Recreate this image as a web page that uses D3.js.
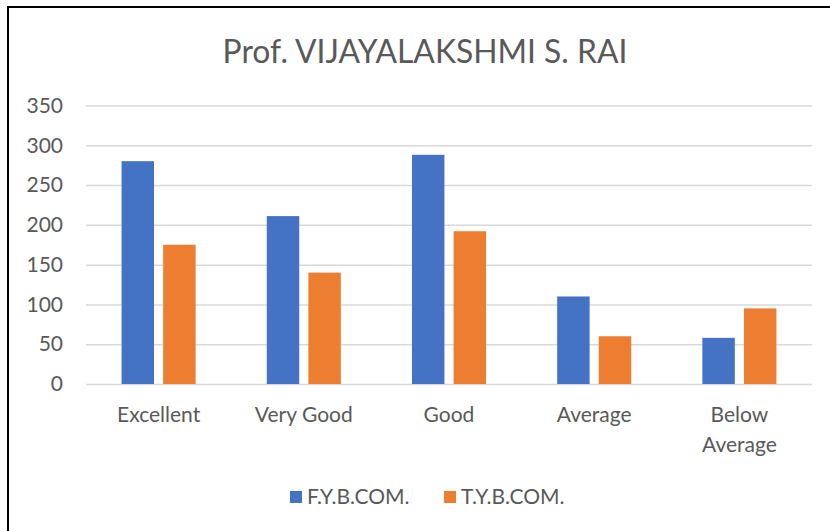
<!DOCTYPE html>
<html>
<head>
<meta charset="utf-8">
<script src="https://cdn.jsdelivr.net/npm/d3@7"></script>
<style>
  body { margin: 0; background: #fff; }
  text { font-family: Lato, "Open Sans", sans-serif; fill: #595959; }
</style>
</head>
<body>
<svg id="chart" width="830" height="531"></svg>
<script>
(function (d3) {
  'use strict';

  const categories = ['Excellent', 'Very Good', 'Good', 'Average', 'Below Average'];
  const seriesNames = ['F.Y.B.COM.', 'T.Y.B.COM.'];
  const fybcom = [280, 211, 288, 110, 58];
  const tybcom = [175, 140, 192, 60, 95];
  const yTicks = [0, 50, 100, 150, 200, 250, 300, 350];
  const colors = ['#4472C4', '#ED7D31'];

  const data = categories.map((c, i) => ({ cat: c, values: [fybcom[i], tybcom[i]] }));

  const svg = d3.select('svg#chart');
  const width = 830, height = 531;
  const margin = { top: 105.5, right: 18, bottom: 147, left: 86 };
  const fontSize = 21;

  // chart frame
  svg.append('rect')
    .attr('x', 8).attr('y', 7)
    .attr('width', width + 20).attr('height', height + 20)
    .attr('fill', '#fff')
    .attr('stroke', '#000')
    .attr('stroke-width', 2);

  const title = svg.append('text')
    .attr('x', 425)
    .attr('y', 63)
    .attr('text-anchor', 'middle')
    .attr('font-size', 30)
    .text('Prof. VIJAYALAKSHMI S. RAI');
  const tw = title.node().getComputedTextLength();
  title.attr('font-size', 30 * 405 / tw);

  const xScale = d3.scaleBand()
    .domain(categories)
    .range([margin.left, width - margin.right])
    .paddingInner(0.49)
    .paddingOuter(0.245);

  const xInner = d3.scaleBand()
    .domain(seriesNames)
    .range([0, xScale.bandwidth()])
    .paddingInner(0.22);

  const yScale = d3.scaleLinear()
    .domain([0, 350])
    .range([height - margin.bottom, margin.top]);

  //gridlines + y labels
  const yAxis = d3.axisLeft(yScale)
    .tickValues(yTicks)
    .tickSize(-(width - margin.right - margin.left))
    .tickPadding(23);

  const yAxisG = svg.append('g')
    .attr('transform', `translate(${margin.left},0)`)
    .call(yAxis);
  yAxisG.select('.domain').remove();
  yAxisG.selectAll('.tick line')
    .attr('stroke', '#D9D9D9')
    .attr('stroke-width', 1.5);
  yAxisG.selectAll('.tick text')
    .attr('font-size', fontSize)
    .attr('fill', '#595959')
    .style('font-family', 'Lato, sans-serif');

  //bars
  const groups = svg.selectAll('.group').data(data)
    .enter().append('g')
      .attr('class', 'group')
      .attr('transform', d => `translate(${xScale(d.cat)},0)`);

  groups.selectAll('rect')
    .data(d => d.values.map((v, i) => ({ key: seriesNames[i], value: v, i })))
    .enter().append('rect')
      .attr('x', d => xInner(d.key))
      .attr('y', d => yScale(d.value))
      .attr('width', xInner.bandwidth())
      .attr('height', d => yScale(0) - yScale(d.value))
      .attr('fill', d => colors[d.i]);

  //category labels (wrap long ones)
  const xAxisG = svg.append('g');
  categories.forEach(c => {
    const cx = xScale(c) + xScale.bandwidth() / 2;
    const lines = c === 'Below Average' ? ['Below', 'Average'] : [c];
    const t = xAxisG.append('text')
      .attr('text-anchor', 'middle')
      .attr('font-size', fontSize)
      .attr('x', cx)
      .attr('y', 422);
    lines.forEach((l, i) => {
      t.append('tspan').attr('x', cx).attr('dy', i === 0 ? 0 : 30).text(l);
    });
  });

  //legend
  const legendItems = [{ x: 290, name: seriesNames[0] }, { x: 444, name: seriesNames[1] }];
  const legend = svg.append('g');
  legendItems.forEach((d, i) => {
    legend.append('rect')
      .attr('x', d.x).attr('y', 491)
      .attr('width', 12).attr('height', 12)
      .attr('fill', colors[i]);
    legend.append('text')
      .attr('x', d.x + 17)
      .attr('y', 504)
      .attr('font-size', fontSize)
      .text(d.name);
  });

}(d3));
</script>
</body>
</html>
